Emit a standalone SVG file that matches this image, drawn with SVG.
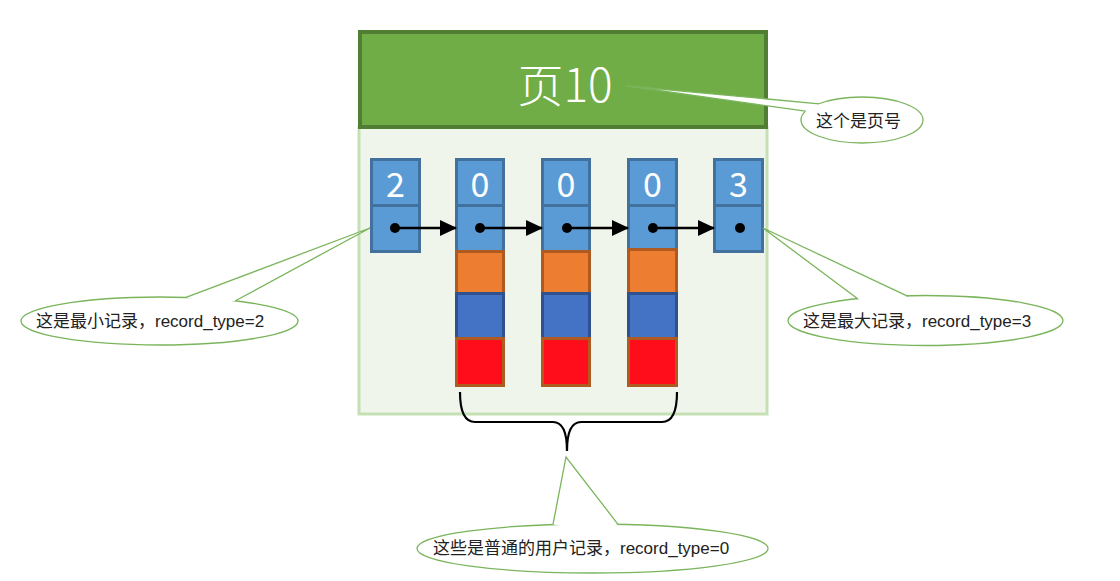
<svg xmlns="http://www.w3.org/2000/svg" width="1120" height="581" viewBox="0 0 1120 581">
<defs>
<style>
.lbl{font-family:"Liberation Sans","Noto Sans CJK SC",sans-serif;font-size:17px;fill:#222}
.num{font-family:"Noto Sans CJK SC","Liberation Sans",sans-serif;font-weight:400;font-size:34px;fill:#fff;text-anchor:middle}
.c1{fill:#5b9bd5;stroke:#41719c;stroke-width:3}
.c2{fill:#ed7d31;stroke:#ae5a21;stroke-width:3}
.c3{fill:#4472c4;stroke:#2f528f;stroke-width:3}
.c4{fill:#ff0d1a;stroke:#ae5a21;stroke-width:3}
.co{fill:#fff;stroke:#7ab55c;stroke-width:1.3}
.wedge{fill:#fff;stroke:none}
.wl{fill:none;stroke:#7ab55c;stroke-width:1.3}
.arr{stroke:#000;stroke-width:2.5;fill:none;marker-end:url(#ah)}
</style>
<marker id="ah" markerWidth="17" markerHeight="16" refX="16" refY="8" orient="auto" markerUnits="userSpaceOnUse">
<path d="M0,0 L17,8 L0,16 Z" fill="#000"/>
</marker>
</defs>
<rect width="1120" height="581" fill="#fff"/>

<g id="page">
<rect x="359" y="127" width="408" height="287" fill="#eff5ea" stroke="#c5e0b4" stroke-width="3"/>
<rect x="360" y="32" width="406" height="95" fill="#70ad47" stroke="#507e32" stroke-width="4"/>
<text x="565" y="102" font-family="Noto Sans CJK SC,Liberation Sans,sans-serif" font-weight="300" font-size="46" fill="#fff" text-anchor="middle">页10</text>
</g>

<g id="rec-min">
<rect class="c1" x="371.5" y="159.5" width="48" height="46"/>
<rect class="c1" x="371.5" y="205.5" width="48" height="46"/>
<text class="num" x="395.5" y="197">2</text>
<circle cx="395" cy="228" r="5" fill="#000"/>
</g>
<g id="rec-1">
<rect class="c1" x="456.5" y="159.5" width="47" height="46"/>
<rect class="c1" x="456.5" y="205.5" width="47" height="46"/>
<rect class="c2" x="456.5" y="251.5" width="47" height="42"/>
<rect class="c3" x="456.5" y="293.5" width="47" height="45"/>
<rect class="c4" x="456.5" y="338.5" width="47" height="47"/>
<text class="num" x="480" y="197">0</text>
<circle cx="480" cy="228" r="5" fill="#000"/>
</g>
<g id="rec-2">
<rect class="c1" x="542.5" y="159.5" width="47" height="46"/>
<rect class="c1" x="542.5" y="205.5" width="47" height="46"/>
<rect class="c2" x="542.5" y="251.5" width="47" height="42"/>
<rect class="c3" x="542.5" y="293.5" width="47" height="45"/>
<rect class="c4" x="542.5" y="338.5" width="47" height="47"/>
<text class="num" x="566" y="197">0</text>
<circle cx="567" cy="228" r="5" fill="#000"/>
</g>
<g id="rec-3">
<rect class="c1" x="628.5" y="159.5" width="48" height="46"/>
<rect class="c1" x="628.5" y="205.5" width="48" height="44"/>
<rect class="c2" x="628.5" y="249.5" width="48" height="44"/>
<rect class="c3" x="628.5" y="293.5" width="48" height="45"/>
<rect class="c4" x="628.5" y="338.5" width="48" height="47"/>
<text class="num" x="652.5" y="197">0</text>
<circle cx="653" cy="228" r="5" fill="#000"/>
</g>
<g id="rec-max">
<rect class="c1" x="714.5" y="159.5" width="48" height="46"/>
<rect class="c1" x="714.5" y="205.5" width="48" height="46"/>
<text class="num" x="738.5" y="197">3</text>
<circle cx="740" cy="228" r="5" fill="#000"/>
</g>

<g id="connectors">
<line class="arr" x1="395" y1="228" x2="456" y2="228"/>
<line class="arr" x1="480" y1="228" x2="542" y2="228"/>
<line class="arr" x1="567" y1="228" x2="628" y2="228"/>
<line class="arr" x1="653" y1="228" x2="714" y2="228"/>
<path d="M460,392 Q460,422 475,422 L553,422 Q567,422 567,451 Q567,422 581,422 L662,422 Q677,422 677,392" fill="none" stroke="#000" stroke-width="2.2"/>
</g>

<g id="callout-page">
<ellipse class="co" cx="862" cy="120" rx="61" ry="23"/>
<polygon class="wedge" points="627,86 819.5,104 830,112 806,111.5"/>
<polyline class="wl" points="819,103.8 627,86 805.5,111.2"/>
<text class="lbl" x="816" y="127">这个是页号</text>
</g>

<g id="callout-min">
<ellipse class="co" cx="159.5" cy="321" rx="138.5" ry="24"/>
<polygon class="wedge" points="186,297.5 370,228 235,301 210,305"/>
<polyline class="wl" points="186,297.3 370,228 235,301"/>
<text class="lbl" x="36" y="327">这是最小记录，record_type=2</text>
</g>

<g id="callout-max">
<ellipse class="co" cx="925.5" cy="320.5" rx="137.5" ry="25"/>
<polygon class="wedge" points="858,299 763,228 908,296.5 880,302"/>
<polyline class="wl" points="858,299 763,228 908,296.4"/>
<text class="lbl" x="803" y="327">这是最大记录，record_type=3</text>
</g>

<g id="callout-user">
<ellipse class="co" cx="592.5" cy="548.5" rx="175.5" ry="24.5"/>
<polygon class="wedge" points="553,524.5 566,457 618,524.5 590,530"/>
<polyline class="wl" points="553,524.3 566,457 618,524.3"/>
<text class="lbl" x="433" y="554">这些是普通的用户记录，record_type=0</text>
</g>
</svg>
